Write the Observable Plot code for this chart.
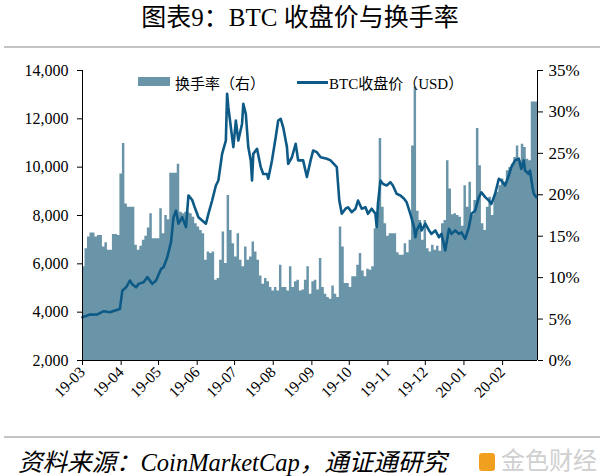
<!DOCTYPE html>
<html><head><meta charset="utf-8">
<script src="https://cdn.jsdelivr.net/npm/d3@7"></script>
<script src="https://cdn.jsdelivr.net/npm/@observablehq/plot@0.6"></script>
<style>
body{margin:0;background:#fff;width:600px;height:476px;overflow:hidden;position:relative;font-family:"Liberation Serif","Noto Sans CJK SC",serif;color:#000;}
#title{position:absolute;left:0;top:3px;width:600px;text-align:center;font-size:25px;line-height:30px;}
.hr{position:absolute;left:4px;width:596px;height:2px;background:#c4c4c4;}
#chart{position:absolute;left:0;top:50px;width:600px;height:386px;}
#chart svg{position:absolute;left:0;top:0;}
#legend{position:absolute;top:72px;left:0;width:600px;height:20px;font-size:15px;}
#caption{position:absolute;left:18px;top:443px;font-size:24.5px;font-style:italic;white-space:nowrap;}
#logo{position:absolute;left:479px;top:446px;white-space:nowrap;font-family:"Noto Sans CJK SC";font-size:24px;line-height:26px;color:#cfcfcf;}
</style></head>
<body>
<div id="title">图表9：BTC 收盘价与换手率</div>
<div class="hr" style="top:46px"></div>
<div id="chart"></div>
<div id="legend">
  <span style="position:absolute;left:138px;top:5px;width:32px;height:9px;background:#6a95a9"></span>
  <span style="position:absolute;left:175px;top:0px">换手率（右）</span>
  <span style="position:absolute;left:297px;top:9px;width:31px;height:3px;background:#0d5a86"></span>
  <span style="position:absolute;left:329px;top:0px">BTC收盘价（USD）</span>
</div>
<div class="hr" style="top:436px"></div>
<div id="caption">资料来源：CoinMarketCap，通证通研究</div>
<div id="logo"><span style="display:inline-block;width:16px;height:18px;background:#f0a01e;border-radius:3px;vertical-align:-2px;margin-right:6px"></span>金色财经</div>
<script>
// ---- data ----
const xTickLabels = ["19-03","19-04","19-05","19-06","19-07","19-08","19-09","19-10","19-11","19-12","20-01","20-02"];
const leftTicks = [2000,4000,6000,8000,10000,12000,14000];
const rightTicks = [0,5,10,15,20,25,30,35];

const priceDates = ["2019-03-01","2019-03-07","2019-03-13","2019-03-18","2019-03-23","2019-03-29","2019-03-31",
"2019-04-02","2019-04-05","2019-04-08","2019-04-10","2019-04-13","2019-04-15","2019-04-19","2019-04-22","2019-04-26","2019-04-29",
"2019-05-03","2019-05-05","2019-05-08","2019-05-11","2019-05-13","2019-05-15","2019-05-17","2019-05-20","2019-05-23","2019-05-25","2019-05-28","2019-05-30",
"2019-06-02","2019-06-05","2019-06-08","2019-06-10","2019-06-13","2019-06-16","2019-06-18","2019-06-21","2019-06-24","2019-06-25","2019-06-26","2019-06-29","2019-06-30",
"2019-07-02","2019-07-04","2019-07-07","2019-07-08","2019-07-10","2019-07-12","2019-07-14","2019-07-15","2019-07-16","2019-07-19","2019-07-22","2019-07-24","2019-07-27","2019-07-28","2019-07-31",
"2019-08-03","2019-08-05","2019-08-07","2019-08-09","2019-08-12","2019-08-13","2019-08-16","2019-08-19","2019-08-21","2019-08-25","2019-08-28","2019-08-31",
"2019-09-02","2019-09-05","2019-09-08","2019-09-13","2019-09-16","2019-09-21","2019-09-23","2019-09-25","2019-09-28","2019-09-30",
"2019-10-03","2019-10-06","2019-10-08","2019-10-11","2019-10-14","2019-10-16","2019-10-19","2019-10-22","2019-10-23","2019-10-24","2019-10-26","2019-10-28","2019-10-31",
"2019-11-03","2019-11-05","2019-11-08","2019-11-11","2019-11-14","2019-11-16","2019-11-19","2019-11-22","2019-11-23","2019-11-24","2019-11-27","2019-11-28",
"2019-12-01","2019-12-04","2019-12-06","2019-12-09","2019-12-12","2019-12-14","2019-12-17","2019-12-20","2019-12-22","2019-12-25","2019-12-28","2019-12-30",
"2020-01-02","2020-01-05","2020-01-07","2020-01-10","2020-01-13","2020-01-15","2020-01-18","2020-01-21","2020-01-23","2020-01-26","2020-01-29","2020-01-31",
"2020-02-03","2020-02-06","2020-02-08","2020-02-11","2020-02-14","2020-02-16","2020-02-18","2020-02-19","2020-02-22","2020-02-23","2020-02-25","2020-02-26","2020-02-28"];
const priceValues = [3790,3900,3905,4040,4000,4100,4130,
4900,5030,5310,5150,5030,5170,5240,5450,5170,5310,
5790,5860,6270,6900,7930,8200,7660,7930,7520,8830,8640,8340,
7930,7790,7660,8070,8620,9240,9450,10550,11100,13040,12480,11240,10830,
11930,11100,11800,12620,12210,10830,10280,9450,10550,10760,10000,9720,9720,9520,10280,
11240,11930,12000,11650,10830,10140,10410,10970,10280,10280,9590,10280,
10690,10620,10410,10350,10280,10000,8620,8070,8280,8340,
8140,8280,8620,8280,8340,8070,8280,8070,7520,8480,9450,9310,9240,
9380,9240,8900,8830,8690,8550,8070,7520,7100,7380,7660,7380,
7660,7380,7240,7380,7100,7240,6550,7450,7240,7380,7240,7300,
7030,7520,8070,8200,8760,8960,8760,8620,8480,8900,9520,9450,
9240,9660,10000,10280,10350,9930,10280,9860,9720,9860,9170,8900,8760];

// turnover rate (%), one value per 2-day period starting 2019-03-01
const turnoverStart = "2019-03-01";
const turnover = [11.3,13.5,14.9,15.4,15.4,14.9,15.1,15.1,13.7,14.2,
13.3,13.3,15.2,15.2,15.1,22.5,26.2,18.9,18.5,18.5,
18.5,13.9,13.3,13.8,14.5,15.0,16.0,17.7,14.7,14.7,
14.7,18.3,15.3,17.5,17.0,22.6,22.6,22.6,23.7,17.9,
17.7,17.9,17.9,17.7,17.3,16.5,16.1,15.7,15.3,12.1,
13.1,12.9,13.1,9.7,9.9,12.1,15.5,11.7,19.9,15.7,
14.1,12.5,15.3,12.1,11.3,13.7,12.1,12.5,14.3,13.1,
12.1,10.2,9.2,9.9,9.5,8.8,8.4,8.8,8.4,11.5,
8.8,8.8,8.4,11.3,8.8,9.5,9.7,8.4,8.5,9.7,
11.3,8.0,9.5,9.7,8.5,12.3,8.8,8.0,7.6,7.4,
9.0,8.0,7.6,16.1,13.7,9.3,9.3,8.8,10.1,10.1,
11.5,12.9,10.8,10.1,11.0,10.9,11.3,15.9,17.9,26.8,
18.5,16.5,15.0,15.3,15.3,15.3,13.0,12.7,12.7,14.1,
13.0,14.5,25.9,33.0,18.0,16.9,14.5,16.9,13.5,13.1,
13.9,13.3,13.8,13.2,16.5,16.9,24.1,20.7,17.6,17.7,
17.5,17.3,16.2,21.1,18.5,21.5,17.5,19.3,28.0,23.5,
16.5,15.7,18.5,19.7,17.5,19.9,20.3,21.1,21.9,21.5,
22.9,23.3,23.7,24.5,25.9,24.1,26.1,25.7,24.3,24.1,
31.2,31.2,31.2];

// ---- build ----
const start = new Date("2019-03-01"), end = new Date("2020-02-29");
const xTicks = xTickLabels.map(s => new Date("20" + s + "-01"));
const t0 = new Date(turnoverStart);
const turnData = turnover.map((v, i) => ({x: d3.utcDay.offset(t0, 2 * i), v}));
turnData.push({x: d3.utcDay.offset(t0, 2 * turnover.length), v: turnover[turnover.length - 1]});
const priceData = priceDates.map((d, i) => ({date: new Date(d), v: priceValues[i]}));

const font = '"Liberation Serif","Noto Sans CJK SC",serif';
const common = {
  width: 600, height: 386, marginTop: 20, marginBottom: 76, marginLeft: 82, marginRight: 63,
  style: {fontFamily: font, fontSize: "16px", color: "#000", background: "transparent", overflow: "visible"}
};
const BAR = "#6a95a9", LINE = "#0d5a86";

const p1 = Plot.plot({
  ...common,
  x: {type: "utc", domain: [start, end]},
  y: {domain: [0, 35]},
  marks: [
    Plot.areaY(turnData, {x: "x", y: "v", curve: "step-after", fill: BAR, clip: true}),
    Plot.axisY(rightTicks, {anchor: "right", tickFormat: d => d + "%", tickSize: 5, tickPadding: 6, fontSize: 17, label: null}),
    Plot.axisX(xTicks, {tickFormat: d => xTickLabels[xTicks.findIndex(t => +t === +d)], tickRotate: -45, tickSize: 5, tickPadding: 4, fontSize: 15.5, label: null}),
    Plot.ruleX([end], {stroke: "#000"}),
    Plot.ruleY([0], {stroke: "#000"})
  ]
});
const p2 = Plot.plot({
  ...common,
  x: {type: "utc", domain: [start, end], axis: null},
  y: {domain: [2000, 14000]},
  marks: [
    Plot.lineY(priceData, {x: "date", y: "v", stroke: LINE, strokeWidth: 2.6, strokeLinejoin: "round"}),
    Plot.axisY(leftTicks, {anchor: "left", tickFormat: d3.format(","), tickSize: 5, tickPadding: 9, fontSize: 16, label: null}),
    Plot.ruleX([start], {stroke: "#000"})
  ]
});
const chart = document.getElementById("chart");
chart.appendChild(p1);
chart.appendChild(p2);
</script>
</body></html>
